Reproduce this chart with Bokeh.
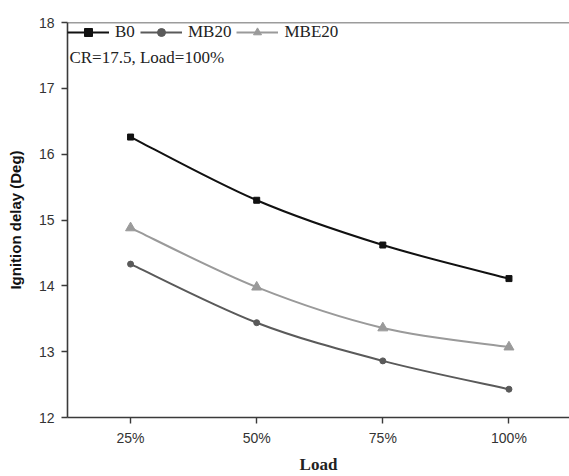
import numpy as np
from bokeh.plotting import figure
from bokeh.models import (Range1d, FixedTicker, Legend, LegendItem, Label, Span, ColumnDataSource)
from bokeh.embed import file_html
from bokeh.resources import INLINE

# ---- data ----
loads = ["25%", "50%", "75%", "100%"]
x_pos = [1, 2, 3, 4]
b0 = [16.26, 15.30, 14.62, 14.11]
mb20 = [14.33, 13.44, 12.86, 12.43]
mbe20 = [14.88, 13.98, 13.36, 13.07]
series_names = ["B0", "MB20", "MBE20"]
y_ticks = [12, 13, 14, 15, 16, 17, 18]

p = figure(width=569, height=476, output_backend="svg", toolbar_location=None,
           x_range=Range1d(0.5, 4.48), y_range=Range1d(12, 18),
           min_border_left=67, min_border_right=0, min_border_top=22, min_border_bottom=59)
p.outline_line_color = None
p.grid.visible = False
p.background_fill_color = "white"

AX = "#3a3a3a"
for ax in (p.xaxis[0], p.yaxis[0]):
    ax.axis_line_color = AX
    ax.axis_line_width = 1.6
    ax.major_tick_line_color = AX
    ax.major_tick_line_width = 1.4
    ax.major_tick_out = 6
    ax.major_tick_in = 0
    ax.minor_tick_line_color = None
    ax.major_label_text_font = "Liberation Sans"
    ax.major_label_text_font_size = "14px"
    ax.major_label_text_color = "#333333"

p.xaxis.ticker = FixedTicker(ticks=x_pos)
p.xaxis.major_label_overrides = {x: l for x, l in zip(x_pos, loads)}
p.xaxis.major_label_standoff = 6
p.xaxis.axis_label = "Load"
p.xaxis.axis_label_text_font = "Liberation Serif"
p.xaxis.axis_label_text_font_style = "bold"
p.xaxis.axis_label_text_font_size = "17px"
p.xaxis.axis_label_text_color = "#222222"
p.xaxis.axis_label_standoff = 6

p.yaxis.ticker = FixedTicker(ticks=y_ticks)
p.yaxis.major_label_standoff = 7
p.yaxis.axis_label = "Ignition delay (Deg)"
p.yaxis.axis_label_text_font = "Liberation Sans"
p.yaxis.axis_label_text_font_style = "bold"
p.yaxis.axis_label_text_font_size = "15px"
p.yaxis.axis_label_text_color = "#111111"
p.yaxis.axis_label_standoff = 12

p.add_layout(Span(location=18, dimension="width", line_color=AX, line_width=1.6))


def bezier_source(xs, ys):
    P = np.column_stack([np.asarray(xs, float), np.asarray(ys, float)])
    n = len(P)
    ext = np.vstack([P[0], P, P[-1]])
    x0, y0, x1, y1, cx0, cy0, cx1, cy1 = ([] for _ in range(8))
    for i in range(n - 1):
        pm, pa, pb, pn = ext[i], ext[i + 1], ext[i + 2], ext[i + 3]
        c0 = pa + (pb - pm) / 6.0
        c1 = pb - (pn - pa) / 6.0
        x0.append(pa[0]); y0.append(pa[1]); x1.append(pb[0]); y1.append(pb[1])
        cx0.append(c0[0]); cy0.append(c0[1]); cx1.append(c1[0]); cy1.append(c1[1])
    return ColumnDataSource(dict(x0=x0, y0=y0, x1=x1, y1=y1, cx0=cx0, cy0=cy0, cx1=cx1, cy1=cy1))


styles = [
    (b0, "#111111", "square", 6),
    (mb20, "#5a5a5a", "circle", 6),
    (mbe20, "#9a9a9a", "triangle", 10),
]
items = []
for name, (ys, col, mk, sz) in zip(series_names, styles):
    src = bezier_source(x_pos, ys)
    bz = p.bezier(x0="x0", y0="y0", x1="x1", y1="y1", cx0="cx0", cy0="cy0", cx1="cx1", cy1="cy1",
                  source=src, line_color=col, line_width=2)
    sc = p.scatter(x_pos, ys, marker=mk, size=sz, fill_color=col, line_color=col)
    items.append(LegendItem(label=name, renderers=[bz, sc]))

legend = Legend(items=items, orientation="horizontal", location="top_left",
                glyph_width=42, glyph_height=20, label_standoff=6, spacing=5,
                padding=0, margin=0, border_line_color=None, background_fill_alpha=0,
                label_text_font="Liberation Serif", label_text_font_size="17px",
                label_text_color="#222222")
p.add_layout(legend)

p.add_layout(Label(x=0.515, y=17.47, text="CR=17.5, Load=100%", text_baseline="middle",
                   text_font="Liberation Serif", text_font_size="17px", text_color="#222222"))

open("out.html", "w").write(file_html(p, INLINE))
